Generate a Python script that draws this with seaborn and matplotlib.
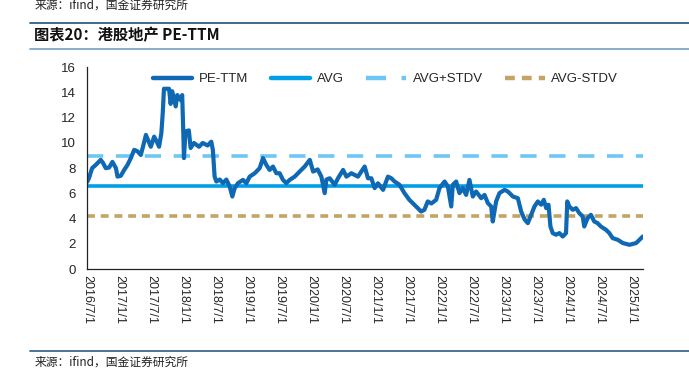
import pandas as pd
import matplotlib
matplotlib.use('Agg')
import matplotlib.pyplot as plt
from matplotlib.lines import Line2D
import seaborn as sns

# PE-TTM
dates = [
    '2016-07-01', '2016-07-12', '2016-07-30', '2016-08-20', '2016-09-17', '2016-10-01',
    '2016-10-16', '2016-11-04', '2016-11-23', '2016-12-13', '2016-12-22', '2017-01-10',
    '2017-01-29', '2017-02-17', '2017-03-08', '2017-03-27', '2017-04-14', '2017-05-04',
    '2017-05-19', '2017-06-02', '2017-06-15', '2017-06-30', '2017-07-19', '2017-08-03',
    '2017-08-16', '2017-08-29', '2017-09-06', '2017-09-13', '2017-10-12', '2017-10-21',
    '2017-10-30', '2017-11-19', '2017-11-28', '2017-12-17', '2017-12-26', '2018-01-01',
    '2018-01-05', '2018-01-14', '2018-02-02', '2018-02-12', '2018-03-03', '2018-04-01',
    '2018-04-22', '2018-05-20', '2018-06-10', '2018-06-19', '2018-06-29', '2018-07-09',
    '2018-07-28', '2018-08-16', '2018-09-04', '2018-09-23', '2018-10-08', '2018-10-21',
    '2018-11-09', '2018-12-08', '2018-12-27', '2019-01-15', '2019-02-13', '2019-03-13',
    '2019-04-01', '2019-04-20', '2019-05-09', '2019-05-28', '2019-06-16', '2019-07-05',
    '2019-07-24', '2019-08-12', '2019-08-31', '2019-09-29', '2019-10-27', '2019-11-25',
    '2019-12-24', '2020-01-12', '2020-02-07', '2020-02-28', '2020-03-18', '2020-03-28',
    '2020-04-16', '2020-05-14', '2020-06-02', '2020-07-01', '2020-07-20', '2020-08-17',
    '2020-09-24', '2020-11-01', '2020-11-20', '2020-12-09', '2020-12-28', '2021-01-16',
    '2021-02-14', '2021-03-14', '2021-04-02', '2021-04-21', '2021-05-19', '2021-06-16',
    '2021-07-14', '2021-08-02', '2021-08-31', '2021-09-19', '2021-10-08', '2021-10-27',
    '2021-11-17', '2021-12-14', '2022-01-02', '2022-01-31', '2022-02-19', '2022-03-10',
    '2022-03-19', '2022-04-07', '2022-04-26', '2022-05-15', '2022-06-03', '2022-06-22',
    '2022-07-11', '2022-07-30', '2022-08-28', '2022-09-16', '2022-10-05', '2022-10-24',
    '2022-11-02', '2022-11-21', '2022-12-10', '2023-01-08', '2023-01-27', '2023-02-25',
    '2023-03-25', '2023-04-13', '2023-05-02', '2023-05-21', '2023-06-09', '2023-06-28',
    '2023-07-17', '2023-08-05', '2023-08-20', '2023-09-03', '2023-09-16', '2023-09-27',
    '2023-10-10', '2023-10-29', '2023-11-17', '2023-12-06', '2023-12-25', '2024-01-01',
    '2024-01-13', '2024-02-01', '2024-02-20', '2024-03-10', '2024-03-29', '2024-04-07',
    '2024-04-26', '2024-05-15', '2024-06-03', '2024-06-22', '2024-07-11', '2024-08-09',
    '2024-08-28', '2024-09-16', '2024-10-15', '2024-11-13', '2024-12-21', '2025-01-28',
    '2025-02-16', '2025-03-07',
]
pe_ttm = [
    6.9, 7.2, 8.0, 8.26, 8.66, 8.4,
    8.0, 8.05, 8.5, 8.0, 7.33, 7.4,
    7.86, 8.26, 8.8, 9.45, 9.35, 9.05,
    9.85, 10.64, 10.2, 9.7, 10.5, 10.1,
    9.7, 10.77, 12.36, 14.3, 14.3, 13.1,
    14.1, 12.9, 13.8, 13.4, 13.8, 11.0,
    8.8, 10.9, 11.0, 9.6, 10.0, 9.7,
    10.0, 9.8, 10.1, 9.45, 7.33, 6.94,
    7.1, 6.81, 7.1, 6.54, 5.75, 6.4,
    6.81, 7.07, 6.8, 7.33, 7.6, 8.0,
    8.8, 8.26, 7.86, 8.13, 7.6, 7.6,
    7.07, 6.81, 7.07, 7.33, 7.73, 8.13,
    8.66, 7.73, 7.9, 7.33, 6.02, 7.1,
    7.2, 6.68, 7.2, 7.86, 7.33, 7.6,
    7.33, 8.13, 7.2, 7.2, 6.42, 6.8,
    6.28, 7.33, 7.2, 6.94, 6.68, 6.02,
    5.49, 5.23, 4.83, 4.56, 4.7, 5.36,
    5.2, 5.49, 6.42, 6.94, 6.55, 4.96,
    6.68, 6.94, 6.02, 6.42, 5.88, 7.07,
    5.75, 6.15, 5.62, 5.88, 5.23, 4.96,
    3.77, 5.36, 6.02, 6.28, 6.15, 5.75,
    5.62, 4.56, 3.95, 3.64, 4.3, 4.96,
    5.36, 5.1, 5.49, 4.83, 5.1, 3.37,
    2.85, 2.72, 2.85, 2.58, 2.85, 5.36,
    4.96, 4.7, 4.83, 4.43, 4.17, 3.37,
    4.04, 4.3, 3.77, 3.64, 3.37, 3.11,
    2.85, 2.45, 2.32, 2.06, 1.92, 2.06,
    2.32, 2.58,
]
avg = 6.62
stdv = 2.38

tick_dates = ['2016-07-01', '2017-01-01', '2017-07-01', '2018-01-01', '2018-07-01',
              '2019-01-01', '2019-07-01', '2020-01-01', '2020-07-01', '2021-01-01',
              '2021-07-01', '2022-01-01', '2022-07-01', '2023-01-01', '2023-07-01',
              '2024-01-01', '2024-07-01', '2025-01-01']
tick_labels = ['2016/7/1', '2017/1/1', '2017/7/1', '2018/1/1', '2018/7/1',
               '2019/1/1', '2019/7/1', '2020/1/1', '2020/7/1', '2021/1/1',
               '2021/7/1', '2022/1/1', '2022/7/1', '2023/1/1', '2023/7/1',
               '2024/1/1', '2024/7/1', '2025/1/1']

df = pd.DataFrame({'date': pd.to_datetime(dates), 'PE-TTM': pe_ttm})
df['AVG'] = avg
df['AVG+STDV'] = avg + stdv
df['AVG-STDV'] = avg - stdv

sns.set_style('white')
plt.rcParams['font.family'] = ['Liberation Sans', 'Noto Sans CJK SC', 'DejaVu Sans']

c_pe = '#0F68B4'
c_avg = '#00A0E6'
c_up = '#6EC6F4'
c_dn = '#C4A465'
dash_up = (0, (4.5, 3.5))
dash_dn = (0, (2.2, 1.6))

fig = plt.figure(figsize=(6.89, 3.68), dpi=100)
ax = fig.add_axes([0.1263, 0.269, 0.8069, 0.548])

sns.lineplot(data=df, x='date', y='AVG+STDV', ax=ax, color=c_up, linewidth=2.6, linestyle=dash_up)
sns.lineplot(data=df, x='date', y='AVG-STDV', ax=ax, color=c_dn, linewidth=2.6, linestyle=dash_dn)
sns.lineplot(data=df, x='date', y='AVG', ax=ax, color=c_avg, linewidth=2.6)
sns.lineplot(data=df, x='date', y='PE-TTM', ax=ax, color=c_pe, linewidth=3.0)

ax.set_xlim(pd.Timestamp('2016-07-01'), pd.Timestamp('2025-03-08'))
ax.set_ylim(0, 16)
ax.set_yticks(range(0, 17, 2))
ax.set_xticks(pd.to_datetime(tick_dates))
ax.set_xticklabels(tick_labels, rotation=270, fontsize=9)
ax.tick_params(axis='y', labelsize=9.5, direction='in', length=3, width=0.8, pad=8)
ax.tick_params(axis='x', direction='in', length=3, width=0.8, pad=4)
ax.set_xlabel('')
ax.set_ylabel('')
for s in ['top', 'right']:
    ax.spines[s].set_visible(False)
for s in ['left', 'bottom']:
    ax.spines[s].set_color('#222222')
    ax.spines[s].set_linewidth(0.9)

handles = [
    Line2D([], [], color=c_pe, linewidth=3.2),
    Line2D([], [], color=c_avg, linewidth=3.2),
    Line2D([], [], color=c_up, linewidth=3.2, linestyle=dash_up),
    Line2D([], [], color=c_dn, linewidth=3.2, linestyle=dash_dn),
]
ax.legend(handles, ['PE-TTM', 'AVG', 'AVG+STDV', 'AVG-STDV'], ncol=4, frameon=False,
          loc='upper center', bbox_to_anchor=(0.537, 1.03), fontsize=9.5,
          handlelength=3.0, columnspacing=1.7, handletextpad=0.5)

# page furniture: header/footer text and rules
cjk = ['Noto Sans CJK SC', 'DejaVu Sans']
fig.text(0.05, 1 - 5 / 368, '来源：ifind，国金证券研究所', fontsize=8.5, color='#222222',
         va='center', family=cjk)
fig.add_artist(Line2D([30 / 689, 1], [1 - 23 / 368] * 2, color='#2F5F85', linewidth=1.3))
fig.text(0.05, 1 - 35 / 368, '图表20：港股地产 PE-TTM', fontsize=11, color='#111111',
         va='center', fontweight='bold', fontstyle='italic', family=cjk)
fig.add_artist(Line2D([30 / 689, 1], [1 - 49 / 368] * 2, color='#7FA6C6', linewidth=1.3))
fig.add_artist(Line2D([30 / 689, 1], [1 - 351 / 368] * 2, color='#3A6A90', linewidth=1.3))
fig.text(0.05, 1 - 362 / 368, '来源：ifind，国金证券研究所', fontsize=8.5, color='#222222',
         va='center', family=cjk)

fig.savefig('out.png', dpi=100)
